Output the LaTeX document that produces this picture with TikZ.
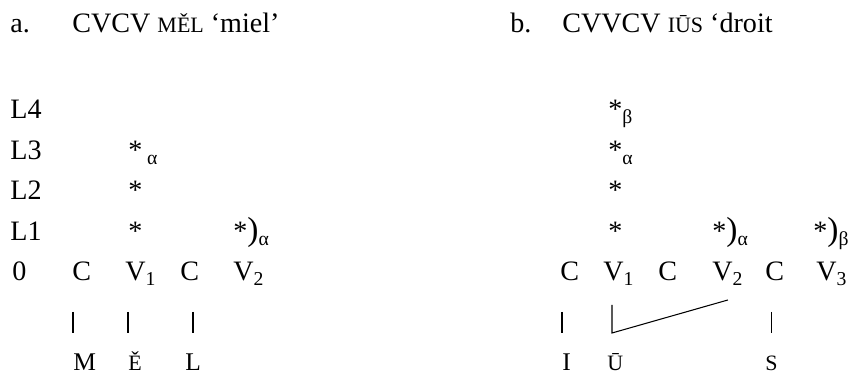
\documentclass[tikz,border=0pt]{standalone}
\usepackage{fontspec}
\setmainfont{Liberation Serif}
\newcommand\smcap[1]{{\fontsize{12.5}{14}\selectfont #1}}
\newcommand\midcap[1]{{\fontsize{14.5}{16}\selectfont #1}}
\newcommand\bigparen{{\fontsize{19}{20}\selectfont )}}

\begin{document}
\begin{tikzpicture}[x=0.02cm,y=-0.02cm,
    every node/.style={font=\fontsize{16}{18}\selectfont,inner sep=0pt,anchor=base west},
    assoc/.style={line width=0.8pt,shorten <=0.62cm,shorten >=0.76cm}]
  \useasboundingbox (0,0) rectangle (849,374);
  % headings
  \node (alab) at (10,33) {a.};
  \node (ahead) at (72,33) {CVCV \smcap{MĚL} ‘miel’};
  \node (blab) at (510,33) {b.};
  \node (bhead) at (562,33) {CVVCV \smcap{IŪS} ‘droit};
  % levels
  \node (l4) at (10,119) {L4};
  \node (l3) at (10,159.5) {L3};
  \node (l2) at (10,200) {L2};
  \node (l1) at (10,240.5) {L1};
  \node (l0) at (12,281) {0};
  % a: skeleton
  \node (aC1) at (72,281) {C};
  \node (aV1) at (125,281) {V\textsubscript{1}};
  \node (aC2) at (180,281) {C};
  \node (aV2) at (233,281) {V\textsubscript{2}};
  \node (aS3) at (128,159.5) {*\,\textsubscript{α}};
  \node (aS2) at (128,200) {*};
  \node (aS1) at (128,240.5) {*};
  \node (aP1) at (233,240.5) {*\bigparen\textsubscript{α}};
  \node (aM) at (73,371) {\midcap{M}};
  \node (aE) at (128,371) {\smcap{Ě}};
  \node (aL) at (185,371) {\midcap{L}};
  \draw[assoc] (aC1.base -| aM.west) -- (aM.base west);
  \draw[assoc] (aV1.base -| aE.west) -- (aE.base west);
  \draw[assoc] (aC2.base -| aL) -- (aL.base);
  % b: skeleton
  \node (bC1) at (560,281) {C};
  \node (bV1) at (603,281) {V\textsubscript{1}};
  \node (bC2) at (658,281) {C};
  \node (bV2) at (712,281) {V\textsubscript{2}};
  \node (bC3) at (765,281) {C};
  \node (bV3) at (816,281) {V\textsubscript{3}};
  \node (bS4) at (608,119) {*\textsubscript{β}};
  \node (bS3) at (608,159.5) {*\textsubscript{α}};
  \node (bS2) at (608,200) {*};
  \node (bS1) at (608,240.5) {*};
  \node (bP1) at (712,240.5) {*\bigparen\textsubscript{α}};
  \node (bP2) at (813,240.5) {*\bigparen\textsubscript{β}};
  \node (bI) at (562,371) {\midcap{I}};
  \node (bU) at (607,371) {\smcap{Ū}};
  \node (bS) at (765,371) {\smcap{S}};
  \coordinate (bjoin) at ([xshift=0.1cm,yshift=0.76cm]bU.base west);
  \coordinate (bend) at ([yshift=-0.38cm]bV2.base);
  \draw[assoc] (bC1.base -| bI.west) -- (bI.base west);
  \draw[assoc,line width=0.6pt,shorten <=0.48cm,shorten >=0pt] (bV1.base -| bjoin) -- (bjoin) -- (bend);
  \draw[assoc] (bC3.base -| bS) -- (bS.base);
\end{tikzpicture}
\end{document}
